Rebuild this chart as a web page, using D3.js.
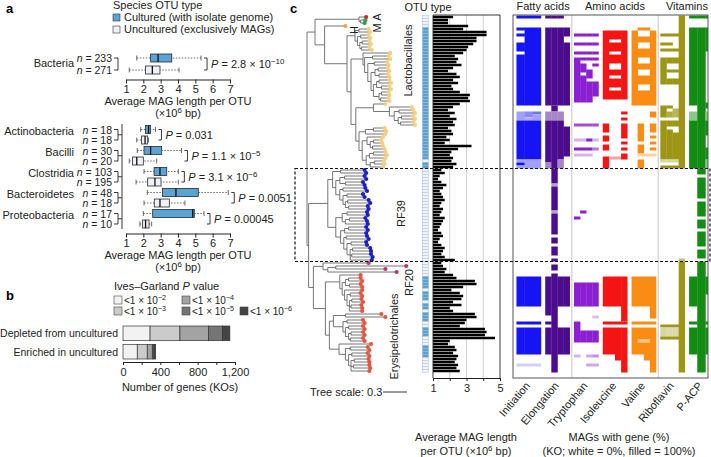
<!DOCTYPE html>
<html>
<head>
<meta charset="utf-8">
<script src="https://cdn.jsdelivr.net/npm/d3@7"></script>
<style>
body { margin: 0; background: #fff; }
svg { font-family: "Liberation Sans", Arial, Helvetica, sans-serif; }
</style>
</head>
<body>
<svg id="chart" width="711" height="457"></svg>
<script>
// ---------- panel a data ----------
var boxGroups = ['Bacteria', 'Actinobacteria', 'Bacilli', 'Clostridia', 'Bacteroidetes', 'Proteobacteria'];
var nCultured = [233, 18, 30, 103, 48, 17];
var nUncultured = [271, 18, 20, 195, 18, 10];
// min, q1, median, q3, max (x10^6 bp)
var cultStats = [[1.62, 2.42, 2.85, 3.64, 5.33], [1.85, 2.12, 2.3, 2.42, 2.7], [1.65, 2.04, 2.42, 3.06, 4.2],
                 [2.04, 2.62, 2.96, 3.35, 4.02], [2.23, 3.1, 3.88, 5.17, 6.9], [2.0, 2.54, 4.85, 4.94, 5.5]];
var uncStats = [[1.19, 2.13, 2.52, 2.96, 4.06], [1.62, 1.9, 2.1, 2.25, 2.29], [1.19, 1.38, 1.62, 2.0, 2.77],
                [1.58, 2.25, 2.67, 3.02, 4.02], [2.04, 2.63, 2.96, 3.5, 4.4], [1.8, 1.96, 2.13, 2.33, 2.48]];
var pMantissa = ['2.8 × 10', '0.031', '1.1 × 10', '3.1 × 10', '0.0051', '0.00045'];
var pExponent = ['−10', '', '−5', '−6', '', ''];

// ---------- panel b data ----------
var pLevels = ['−2', '−3', '−4', '−5', '−6'];
var pColors = ['#f2f2f2', '#cbcbcb', '#a3a3a3', '#757575', '#444444'];
var koRows = ['Depleted from uncultured', 'Enriched in uncultured'];
var koCounts = [[290, 320, 305, 150, 80], [153, 107, 54, 18, 18]];

// ---------- panel c data ----------
var L1 = "((:0.12,:0.14):0.05,((:0.1,:0.12):0.04,((:0.09,:0.11):0.03,(:0.1,:0.13):0.02):0.03):0.03)";
var L2 = "(:0.34,((:0.2,:0.22):0.1,((:0.16,:0.18):0.08,(((:0.12,:0.14):0.04,(:0.11,:0.13):0.05):0.05,(((:0.13,:0.15):0.03,(:0.1,:0.12):0.06):0.04,((:0.09,:0.1):0.03,(:0.1,:0.11):0.02):0.07):0.03):0.04):0.04):0.02)";
var L3 = "(:0.15,(:0.28,((:0.18,:0.2):0.06,((:0.15,:0.17):0.04,(:0.16,:0.18):0.03):0.05):0.06):0.2)";
var L4 = "(((:0.14,:0.16):0.1,:0.25):0.08,((:0.2,((:0.1,:0.11):0.04,(:0.13,:0.15):0.03):0.04):0.06,(((:0.15,:0.17):0.05,:0.2):0.04,((:0.12,:0.13):0.05,:0.16):0.05):0.05):0.04)";
var R1 = "((:0.3,:0.32):0.1,(((:0.25,:0.27):0.06,(:0.22,:0.24):0.07):0.05,((:0.28,:0.3):0.04,((:0.2,:0.22):0.05,((:0.26,:0.28):0.03,(:0.24,:0.25):0.04):0.03):0.04):0.05):0.04)";
var R2 = "(((:0.25,:0.26):0.06,((:0.2,:0.22):0.05,:0.28):0.04):0.08,(((:0.22,:0.24):0.05,:0.27):0.05,((:0.26,:0.28):0.03,((:0.19,:0.2):0.05,((:0.22,:0.23):0.03,(:0.24,:0.26):0.02,:0.27):0.04):0.04):0.04):0.06)";
var E1 = "(:0.26,(((:0.15,:0.17):0.04,(:0.14,:0.16):0.05):0.04,(:0.22,((:0.13,:0.15):0.04,((:0.12,:0.14):0.03,(:0.13,:0.14):0.02,:0.16):0.03):0.03):0.03):0.03)";
var E2 = "(:0.45,:0.5)";
var E3 = "((:0.2,:0.22):0.05,((:0.18,:0.2):0.04,((:0.15,:0.17):0.03,(:0.16,:0.18):0.02):0.04):0.03)";
var E4 = "(:0.4,((:0.22,:0.24):0.06,((:0.2,:0.22):0.04,((:0.18,:0.19):0.04,(:0.2,:0.21):0.03,:0.23):0.03):0.04):0.08)";
var LAC = "(" + L1 + ":0.1,(" + L2 + ":0.15,(" + L3 + ":0.22," + L4 + ":0.04):0.06):0.05)";
var TOP = "((A:0.09,(:0.06,:0.05)M:0.02):0.55,(H:0.26," + LAC + "Lactobacillales:0.28):0.12)";
var RF39 = "(" + R1 + ":0.06," + R2 + ":0.1)RF39";
var RF20 = "(:0.57,((:0.88,:0.62):0.1,:0.86):0.06)RF20";
var ERYS = "(" + E1 + ":0.18,((" + E2 + ":0.15," + E3 + ":0.12):0.05," + E4 + ":0.12):0.05)Erysipelotrichales";
var BOT = "(" + RF39 + ":0.24,(" + RF20 + ":0.12," + ERYS + ":0.15):0.06)";
var NEWICK = "(" + TOP + ":0.1," + BOT + ":0.02);";

var cladeColors = {A: '#c4283f', M: '#2f9b4f', H: '#e9a35f', Lactobacillales: '#f3cf82',
                   RF39: '#1c1cc8', RF20: '#b33a6c', Erysipelotrichales: '#e2553f'};

// rows (leaves) that are cultured species
var culturedRuns = [[4, 47], [49, 50], [87, 90], [92, 94], [96, 97], [99, 101], [104, 106], [110, 113]];

var magTop = [2.2, 1.9, 1.9, 3.1, 2.8, 4.2, 4.2, 3.6, 3.6, 3.4,
              3.1, 3.0, 2.8, 2.3, 2.5, 2.4, 2.7, 2.2, 1.9, 2.4,
              2.6, 2.2, 2.5, 2.1, 2.2, 2.6, 3.2, 3.1, 3.2, 2.6,
              2.2, 1.9, 2.3, 2.0, 2.4, 2.2, 2.3, 1.9, 2.1, 2.2,
              1.8, 2.0, 1.7, 3.3, 2.5, 2.1, 2.0, 2.2, 2.1, 2.4, 2.2];
var magRF39 = [1.5, 1.7, 1.4, 1.3, 1.5, 1.8, 1.6, 1.4, 1.5, 1.6,
               1.7, 1.5, 1.4, 1.6, 1.5, 1.4, 1.7, 1.6, 1.5, 1.4,
               1.3, 1.5, 1.6, 1.4, 1.3, 1.5, 1.7, 1.6, 1.5, 1.7, 2.3];
var magBottom = [1.5, 1.6, 1.8, 1.7, 2.2, 2.4, 3.5, 3.6, 2.8, 2.1,
                 2.6, 2.8, 2.7, 2.2, 2.7, 2.0, 2.2, 3.5, 3.6, 3.0,
                 2.9, 2.6, 4.1, 4.2, 4.1, 4.7, 2.0, 1.9, 2.3, 2.4,
                 2.2, 2.5, 2.4, 2.3, 2.5, 2.4, 2.6];
var magLength = magTop.concat(magRF39, magBottom);

var heatGroups = ['Initiation', 'Elongation', 'Tryptophan', 'Isoleucine', 'Valine', 'Riboflavin', 'P-ACP'];
var heatColors = ['#1414f5', '#4b0c8f', '#8c1fd2', '#f51414', '#fa8c14', '#9c9614', '#128c12'];
var koGroup = [0, 0, 0, 1, 1, 1, 1, 2, 2, 2, 2, 3, 3, 3, 3, 4, 4, 4, 4, 5, 5, 5, 5, 6, 6, 6];
// per KO column: [first row, last row, fraction of MAGs with gene]
var koRuns = [
  [[0,0,1],[4,4,1],[6,6,1],[9,11,1],[13,29,1],[32,34,.4],[35,47,1],[48,48,.4],[49,49,1],[50,50,.4],[87,96,1],[102,102,1],[104,112,1],[116,116,.2]],
  [[0,0,1],[4,29,1],[32,33,.5],[34,34,.35],[35,47,1],[48,50,.4],[87,96,1],[102,102,1],[104,112,1],[116,116,.2]],
  [[0,0,1],[4,29,1],[32,32,.6],[33,34,.4],[35,47,1],[48,50,.4],[87,96,1],[102,102,1],[104,112,1],[116,116,.2]],
  [[0,0,1],[4,29,1],[32,34,.5],[35,48,1],[49,50,.5],[87,99,1],[102,102,1],[104,112,1]],
  [[0,0,1],[4,29,1],[30,31,1],[32,34,.5],[35,50,1],[51,55,1],[56,56,.4],[57,64,1],[65,65,.4],[66,72,1],[74,75,1],[77,79,1],[81,81,1],[83,84,1],[86,118,1]],
  [[0,0,1],[4,29,1],[32,34,.5],[35,47,1],[48,50,.5],[87,96,1],[104,112,1]],
  [[4,6,1],[9,29,1],[37,46,1],[87,96,1],[104,112,1]],
  [[6,6,1],[9,9,1],[12,12,1],[14,28,1],[36,36,.8],[41,41,.35],[44,44,1],[46,46,.35],[67,67,1],[89,96,1],[102,108,1],[113,113,.35]],
  [[6,6,1],[9,9,1],[12,12,1],[14,14,1],[16,18,1],[20,28,1],[36,36,.8],[41,41,.35],[44,44,1],[46,46,.35],[65,65,1],[89,96,1],[105,108,1]],
  [[6,6,1],[9,9,1],[12,12,1],[14,14,1],[18,20,1],[22,28,1],[36,36,.8],[41,41,1],[44,44,1],[46,46,.35],[89,96,1],[105,108,1],[113,113,.4],[116,116,.4]],
  [[6,6,1],[9,9,1],[12,12,1],[14,14,1],[16,16,1],[22,26,1],[36,36,.8],[41,41,.35],[44,44,.6],[89,96,1],[100,100,.3],[105,108,1],[113,113,.5],[116,116,.4]],
  [[5,27,1],[36,38,1],[40,41,1],[43,44,1],[47,50,1],[87,96,1],[102,102,1],[104,112,1]],
  [[5,7,1],[9,11,1],[13,15,1],[18,19,1],[21,23,1],[25,27,1],[47,47,.4],[87,96,1],[102,102,1],[104,112,1]],
  [[5,7,1],[9,11,1],[13,15,1],[18,19,1],[21,23,1],[25,27,1],[47,47,.4],[87,96,1],[102,102,1],[104,114,1]],
  [[5,27,1],[32,32,1],[34,34,1],[36,40,1],[42,42,1],[44,44,1],[46,47,1],[87,101,1],[102,102,1],[104,118,1]],
  [[5,29,1],[87,96,1],[102,102,1],[104,112,1]],
  [[4,4,1],[7,8,1],[11,13,1],[16,17,1],[20,22,1],[25,29,1],[36,41,1],[43,45,1],[46,46,.4],[48,50,1],[87,96,1],[102,102,1],[104,107,1],[108,108,.5],[109,112,1]],
  [[4,4,1],[7,8,1],[11,13,1],[16,17,1],[20,22,1],[25,29,1],[46,46,.4],[87,96,1],[102,102,1],[104,107,1],[108,108,.5],[109,114,1]],
  [[5,29,1],[32,33,1],[36,38,1],[40,40,1],[42,42,1],[44,44,1],[46,46,.4],[87,100,1],[102,102,1],[104,118,1]],
  [[6,6,1],[9,9,1],[11,11,1],[14,22,1],[30,33,1],[35,47,1],[48,48,.4],[50,50,1],[103,103,1],[104,106,.4],[107,107,1]],
  [[6,6,1],[9,9,1],[11,11,1],[14,15,1],[18,18,1],[21,22,1],[30,30,1],[32,33,.8],[35,36,1],[38,47,1],[48,48,.4],[50,50,1],[103,103,1],[104,106,.35],[107,107,1]],
  [[6,6,1],[11,11,1],[14,15,1],[18,18,1],[21,22,1],[31,33,.7],[35,36,1],[39,47,1],[48,48,.4],[50,50,1],[103,103,1],[104,106,.35],[107,107,1]],
  [[0,50,1],[81,81,.6],[82,118,1]],
  [[0,0,1],[4,29,1],[32,34,.5],[35,50,1],[87,96,1],[102,102,1],[104,112,1]],
  [[0,0,1],[4,50,1],[51,52,1],[54,60,1],[62,66,1],[68,70,1],[72,76,1],[78,80,1],[82,118,1]],
  [[0,0,1],[4,11,1],[29,30,1],[32,34,.5],[35,39,1],[44,47,1],[48,50,.5],[87,92,1],[102,102,1],[104,112,1]]
];

var svg = d3.select('#chart');
var ink = '#222';

function richText(g, x, y, parts, anchor, size) {
  var t = g.append('text').attr('x', x).attr('y', y)
    .attr('font-size', size || 11).attr('fill', ink)
    .attr('text-anchor', anchor || 'start');
  var raised = false;
  parts.forEach(function(p) {
    var ts = t.append('tspan').text(p[0]);
    if (p[1] === 'sup') {
      ts.attr('font-size', (size || 11) * 0.72);
      if (!raised) { ts.attr('dy', -4); raised = true; }
    } else if (raised) { ts.attr('dy', 4); raised = false; }
    if (p[2]) ts.attr('font-style', 'italic');
  });
  return t;
}

function panelLetter(x, y, s) {
  svg.append('text').attr('x', x).attr('y', y).attr('font-size', 13)
    .attr('font-weight', 'bold').attr('fill', '#000').text(s);
}

// ================= panel a =================
panelLetter(6, 13, 'a');
var ga = svg.append('g');
ga.append('text').attr('x', 113).attr('y', 9).attr('font-size', 11).attr('fill', ink).text('Species OTU type');
ga.append('rect').attr('x', 113).attr('y', 14).attr('width', 7).attr('height', 7)
  .attr('fill', '#5aa3d5').attr('stroke', '#333').attr('stroke-width', 0.6);
ga.append('text').attr('x', 124).attr('y', 21).attr('font-size', 11).attr('fill', ink).text('Cultured (with isolate genome)');
ga.append('rect').attr('x', 113).attr('y', 26).attr('width', 7).attr('height', 7)
  .attr('fill', '#eef1f8').attr('stroke', '#333').attr('stroke-width', 0.6);
ga.append('text').attr('x', 124).attr('y', 33).attr('font-size', 11).attr('fill', ink).text('Uncultured (exclusively MAGs)');

var xA = d3.scaleLinear().domain([1, 7]).range([126, 230]);
var yBact = d3.scalePoint().domain([0, 1]).range([58, 70]);
var yPhyla = d3.scalePoint().domain(d3.range(10)).range([129.5, 224]);

function drawBox(g, y, s, cultured) {
  g.append('line').attr('x1', xA(s[0])).attr('x2', xA(s[4])).attr('y1', y).attr('y2', y)
    .attr('stroke', '#444').attr('stroke-width', 0.8).attr('stroke-dasharray', '1.5,1.5');
  [s[0], s[4]].forEach(function(v) {
    g.append('line').attr('x1', xA(v)).attr('x2', xA(v)).attr('y1', y - 2.5).attr('y2', y + 2.5)
      .attr('stroke', '#444').attr('stroke-width', 0.8);
  });
  g.append('rect').attr('x', xA(s[1])).attr('y', y - 4).attr('width', xA(s[3]) - xA(s[1])).attr('height', 8)
    .attr('fill', cultured ? '#5aa3d5' : '#eef1f8').attr('stroke', '#2a2a2a').attr('stroke-width', 0.8);
  g.append('line').attr('x1', xA(s[2])).attr('x2', xA(s[2])).attr('y1', y - 4).attr('y2', y + 4)
    .attr('stroke', '#111').attr('stroke-width', 1.3);
}

function drawPair(k, yc, yu, labelY, withAxisTick) {
  richText(ga, 112, yc + 4, [['n', '', true], [' = ' + nCultured[k]]], 'end', 10.5);
  richText(ga, 112, yu + 4, [['n', '', true], [' = ' + nUncultured[k]]], 'end', 10.5);
  ga.append('text').attr('x', 74).attr('y', labelY).attr('text-anchor', 'end')
    .attr('font-size', 11).attr('fill', ink).text(boxGroups[k]);
  ga.append('path').attr('d', 'M114,' + yc + 'H118V' + yu + 'H114')
    .attr('fill', 'none').attr('stroke', ink).attr('stroke-width', 0.9);
  if (withAxisTick) {
    ga.append('path').attr('d', 'M118,' + ((yc + yu) / 2) + 'H122')
      .attr('stroke', ink).attr('stroke-width', 0.9);
  }
  drawBox(ga, yc, cultStats[k], true);
  drawBox(ga, yu, uncStats[k], false);
  var bx = xA(Math.max(cultStats[k][4], uncStats[k][4])) + 6;
  ga.append('path').attr('d', 'M' + (bx - 3) + ',' + yc + 'H' + bx + 'V' + yu + 'H' + (bx - 3))
    .attr('fill', 'none').attr('stroke', ink).attr('stroke-width', 0.9);
  var parts = [['P', '', true], [' = ' + pMantissa[k]]];
  if (pExponent[k]) parts.push([pExponent[k], 'sup']);
  richText(ga, bx + 4, (yc + yu) / 2 + 4, parts, 'start');
}

drawPair(0, yBact(0), yBact(1), 67, false);
for (var k = 1; k < boxGroups.length; k++) {
  var yc = yPhyla((k - 1) * 2), yu = yPhyla((k - 1) * 2 + 1);
  drawPair(k, yc, yu, yc + 5, true);
}
ga.append('line').attr('x1', 122).attr('x2', 122).attr('y1', 124).attr('y2', 229)
  .attr('stroke', ink).attr('stroke-width', 0.9);

function axisA(y, titleY) {
  var ax = ga.append('g').attr('transform', 'translate(0,' + y + ')')
    .call(d3.axisBottom(xA).ticks(7).tickSize(4).tickSizeOuter(0).tickPadding(2));
  ax.selectAll('text').attr('font-size', 11).attr('fill', ink).attr('font-family', null);
  ax.selectAll('line,path').attr('stroke', ink);
  ax.attr('font-family', null);
  ga.append('text').attr('x', 178).attr('y', titleY).attr('text-anchor', 'middle')
    .attr('font-size', 11).attr('fill', ink).text('Average MAG length per OTU');
  richText(ga, 178, titleY + 12, [['(×10'], ['6', 'sup'], [' bp)']], 'middle');
}
axisA(79.5, 105);
axisA(233.5, 259);

// ================= panel b =================
panelLetter(6, 300, 'b');
var gb = svg.append('g');
richText(gb, 114, 290, [['Ives–Garland '], ['P', '', true], [' value']], 'start');
var legendPos = [[114, 296], [114, 307], [182, 296], [182, 307], [240, 307]];
pLevels.forEach(function(lv, i) {
  gb.append('rect').attr('x', legendPos[i][0]).attr('y', legendPos[i][1]).attr('width', 8).attr('height', 8)
    .attr('fill', pColors[i]).attr('stroke', '#444').attr('stroke-width', 0.6);
  richText(gb, legendPos[i][0] + 10, legendPos[i][1] + 8, [['<1 × 10'], [lv, 'sup']], 'start', 10);
});

var xB = d3.scaleLinear().domain([0, 1200]).range([123, 235]);
var yB = d3.scaleBand().domain(koRows).range([326, 359]).paddingInner(0.2);
koRows.forEach(function(r, i) {
  var acc = 0;
  koCounts[i].forEach(function(c, j) {
    gb.append('rect').attr('x', xB(acc)).attr('y', yB(r)).attr('width', xB(acc + c) - xB(acc))
      .attr('height', yB.bandwidth()).attr('fill', pColors[j]).attr('stroke', '#333').attr('stroke-width', 0.7);
    acc += c;
  });
  gb.append('text').attr('x', 118).attr('y', yB(r) + yB.bandwidth() / 2 + 4).attr('text-anchor', 'end')
    .attr('font-size', 10.5).attr('fill', ink).text(r);
});
var axB = gb.append('g').attr('transform', 'translate(0,362)')
  .call(d3.axisBottom(xB).tickValues([0, 200, 400, 600, 800, 1000, 1200]).tickSize(3).tickSizeOuter(0).tickPadding(3)
    .tickFormat(function(d) { return d % 400 === 0 ? d3.format(',')(d) : ''; }));
axB.attr('font-family', null);
axB.selectAll('text').attr('font-size', 11).attr('fill', ink);
axB.selectAll('line,path').attr('stroke', ink);
gb.append('text').attr('x', 180).attr('y', 391).attr('text-anchor', 'middle').attr('font-size', 11)
  .attr('fill', ink).text('Number of genes (KOs)');

// ================= panel c =================
panelLetter(290, 13, 'c');
var gc = svg.append('g');

function parseNewick(s) {
  var i = 0;
  function node() {
    var n = {children: [], name: '', length: 0};
    if (s[i] === '(') {
      i++;
      n.children.push(node());
      while (s[i] === ',') { i++; n.children.push(node()); }
      i++;
    }
    while (i < s.length && ':,();'.indexOf(s[i]) < 0) n.name += s[i++];
    if (s[i] === ':') {
      i++;
      var num = '';
      while (i < s.length && ',();'.indexOf(s[i]) < 0) num += s[i++];
      n.length = +num;
    }
    return n;
  }
  return node();
}

var root = d3.hierarchy(parseNewick(NEWICK), function(d) { return d.children.length ? d.children : null; });
root.eachBefore(function(d) {
  d.len = d.parent ? d.parent.len + d.data.length : 0;
  d.grp = d.data.name || (d.parent ? d.parent.grp : '');
});
var leaves = root.leaves();
var N = leaves.length;
var rowY = d3.scaleBand().domain(d3.range(N)).range([15.5, 15.5 + 3 * N]);
leaves.forEach(function(d, i) { d.row = i; d.y = rowY(i) + rowY.bandwidth() / 2; });
root.eachAfter(function(d) {
  if (d.children) d.y = (d.children[0].y + d.children[d.children.length - 1].y) / 2;
});
var xT = d3.scaleLinear().domain([0, 1]).range([307, 387]);

var treePath = '';
root.each(function(d) {
  if (d.parent) treePath += 'M' + xT(d.parent.len) + ',' + d.y + 'H' + xT(d.len);
  if (d.children) treePath += 'M' + xT(d.len) + ',' + d.children[0].y + 'V' + d.children[d.children.length - 1].y;
});
gc.append('path').attr('d', treePath).attr('fill', 'none').attr('stroke', '#666').attr('stroke-width', 0.9);
gc.selectAll('circle.leaf').data(leaves).enter().append('circle')
  .attr('class', 'leaf').attr('cx', function(d) { return xT(d.len); }).attr('cy', function(d) { return d.y; })
  .attr('r', 2.1).attr('fill', function(d) { return cladeColors[d.grp] || '#888'; });

function vLabel(x, y, s) {
  gc.append('text').attr('transform', 'translate(' + x + ',' + y + ') rotate(-90)')
    .attr('text-anchor', 'middle').attr('font-size', 11).attr('fill', ink).text(s);
}
vLabel(381, 17, 'A');
vLabel(381, 28, 'M');
vLabel(358, 30, 'H');
vLabel(412, rowY(15), 'Lactobacillales');
vLabel(405, rowY(66), 'RF39');
vLabel(413, rowY(89), 'RF20');
vLabel(398, rowY(107), 'Erysipelotrichales');

gc.append('text').attr('x', 310).attr('y', 396).attr('font-size', 11).attr('fill', ink).text('Tree scale: 0.3');
gc.append('line').attr('x1', 383).attr('x2', 383 + xT(0.3) - xT(0)).attr('y1', 392).attr('y2', 392)
  .attr('stroke', ink).attr('stroke-width', 0.9);

// OTU type strip
var cultured = d3.range(N).map(function(i) {
  return culturedRuns.some(function(r) { return i >= r[0] && i <= r[1]; });
});
gc.append('text').attr('x', 428).attr('y', 11).attr('text-anchor', 'middle').attr('font-size', 11)
  .attr('fill', ink).text('OTU type');
gc.selectAll('rect.otu').data(d3.range(N)).enter().append('rect').attr('class', 'otu')
  .attr('x', 422.5).attr('y', function(i) { return rowY(i); }).attr('width', 6).attr('height', rowY.bandwidth())
  .attr('fill', function(i) { return cultured[i] ? '#5e9fcd' : '#eef2fa'; })
  .attr('stroke', function(i) { return cultured[i] ? '#8dbde0' : '#a9c1de'; }).attr('stroke-width', 0.5);

// MAG length bars
var xM = d3.scaleLinear().domain([1, 5]).range([433, 500]);
[2, 3, 4].forEach(function(v) {
  gc.append('line').attr('x1', xM(v)).attr('x2', xM(v)).attr('y1', 15).attr('y2', 378)
    .attr('stroke', '#c4c4c4').attr('stroke-width', 0.8);
});
gc.selectAll('rect.mag').data(magLength).enter().append('rect').attr('class', 'mag')
  .attr('x', xM(1)).attr('y', function(d, i) { return rowY(i) + 0.25; })
  .attr('width', function(d) { return xM(d) - xM(1); }).attr('height', rowY.bandwidth() - 0.5)
  .attr('fill', '#000');
gc.append('path').attr('d', 'M' + xM(1) + ',15H' + xM(5) + 'V378')
  .attr('fill', 'none').attr('stroke', ink).attr('stroke-width', 0.9);
var axM = gc.append('g').attr('transform', 'translate(0,378)')
  .call(d3.axisBottom(xM).tickValues([1, 2, 3, 4, 5]).tickSize(3).tickSizeOuter(0).tickPadding(3)
    .tickFormat(function(d) { return d % 2 === 1 ? d : ''; }));
axM.attr('font-family', null);
axM.selectAll('text').attr('font-size', 11).attr('fill', ink);
axM.selectAll('line,path').attr('stroke', ink);
gc.append('line').attr('x1', xM(1)).attr('x2', xM(1)).attr('y1', 15).attr('y2', 378)
  .attr('stroke', ink).attr('stroke-width', 0.9);
gc.append('text').attr('x', 466).attr('y', 441).attr('text-anchor', 'middle').attr('font-size', 11)
  .attr('fill', ink).text('Average MAG length');
richText(gc, 466, 455, [['per OTU (×10'], ['6', 'sup'], [' bp)']], 'middle');

// heatmap
var gx = d3.scaleBand().domain(d3.range(heatGroups.length)).range([515, 715]).paddingInner(0.15).paddingOuter(0.05);
var koCount = heatGroups.map(function(g, i) { return koGroup.filter(function(x) { return x === i; }).length; });
svg.append('clipPath').attr('id', 'heatclip').append('rect')
  .attr('x', 513).attr('y', 15).attr('width', 195).attr('height', 363);
var gh = gc.append('g').attr('clip-path', 'url(#heatclip)');
var seen = heatGroups.map(function() { return 0; });
koRuns.forEach(function(runs, k) {
  var g = koGroup[k];
  var inner = d3.scaleBand().domain(d3.range(koCount[g])).range([gx(g), gx(g) + gx.bandwidth()]);
  var j = seen[g]++;
  runs.forEach(function(r) {
    gh.append('rect').attr('x', inner(j)).attr('y', rowY(r[0]))
      .attr('width', inner.bandwidth() + 0.3).attr('height', rowY(r[1]) - rowY(r[0]) + rowY.bandwidth())
      .attr('fill', d3.interpolateRgb('#ffffff', heatColors[g])(r[2]));
  });
});
[[1, 2], [4, 5]].forEach(function(p) {
  var x = (gx(p[0]) + gx.bandwidth() + gx(p[1])) / 2;
  gc.append('line').attr('x1', x).attr('x2', x).attr('y1', 15).attr('y2', 378)
    .attr('stroke', '#b5b5b5').attr('stroke-width', 0.8);
});
gc.append('rect').attr('x', 513).attr('y', 15).attr('width', 195).attr('height', 363)
  .attr('fill', 'none').attr('stroke', '#555').attr('stroke-width', 1);

var headers = [['Fatty acids', 0, 1], ['Amino acids', 2, 4], ['Vitamins', 5, 6]];
headers.forEach(function(h) {
  var cx = (gx(h[1]) + gx(h[2]) + gx.bandwidth()) / 2;
  gc.append('text').attr('x', cx).attr('y', 10).attr('text-anchor', 'middle').attr('font-size', 11)
    .attr('fill', ink).text(h[0]);
});
heatGroups.forEach(function(name, i) {
  var cx = gx(i) + gx.bandwidth() / 2 + 2;
  gc.append('text').attr('transform', 'translate(' + cx + ',386) rotate(-50)').attr('text-anchor', 'end')
    .attr('font-size', 11).attr('fill', ink).text(name);
});
gc.append('text').attr('x', 619).attr('y', 441).attr('text-anchor', 'middle').attr('font-size', 11)
  .attr('fill', ink).text('MAGs with gene (%)');
gc.append('text').attr('x', 619).attr('y', 455).attr('text-anchor', 'middle').attr('font-size', 11)
  .attr('fill', ink).text('(KO; white = 0%, filled = 100%)');

// dashed box around RF39
var yTopD = rowY(51), yBotD = rowY(82);
gc.append('path').attr('d', 'M295,' + yTopD + 'H710V' + yBotD + 'H295Z')
  .attr('fill', 'none').attr('stroke', '#111').attr('stroke-width', 1.2).attr('stroke-dasharray', '3,2');
</script>
</body>
</html>
